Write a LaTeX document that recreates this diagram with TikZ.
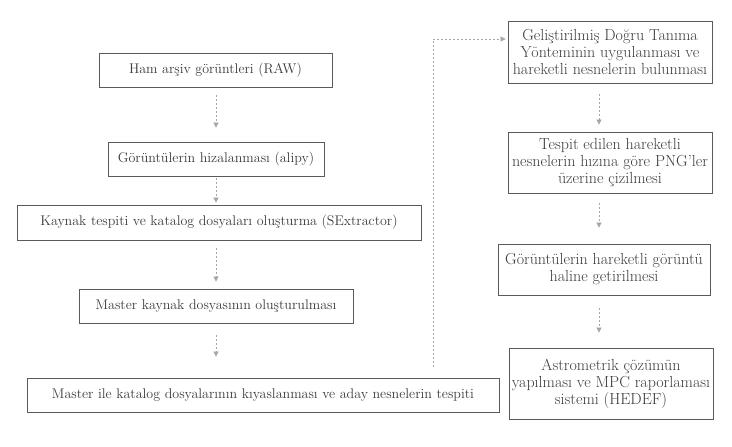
\documentclass[tikz,border=0pt]{standalone}
\usepackage{fontspec}
\usetikzlibrary{arrows.meta}

\definecolor{boxline}{HTML}{5A5A5A}
\definecolor{boxtext}{HTML}{3C3C3C}
\definecolor{flowgray}{HTML}{A6A6A6}

\tikzset{
  adim/.style={draw=boxline, line width=.8pt, text=boxtext, align=center,
    inner sep=0pt, font=\fontsize{14}{17}\selectfont},
  sagadim/.style={adim, font=\fontsize{16}{17}\selectfont},
  akis/.style={draw=flowgray, line width=.7pt, dash pattern=on 2pt off 2pt,
    -{Triangle[length=5pt,width=5pt]}},
}

\begin{document}
\begin{tikzpicture}[x=1pt,y=-1pt]
  \useasboundingbox (0,0) rectangle (732,447);
  \fill[white] (0,0) rectangle (732,447);

  % sol sutun
  \node[adim, minimum width=233pt, minimum height=34pt] (ham) at (215.5,70) {Ham arşiv görüntleri (RAW)};
  \node[adim, minimum width=216pt, minimum height=34pt] (hiza) at (216,159) {Görüntülerin hizalanması (alipy)};
  \node[adim, minimum width=404pt, minimum height=35pt] (kaynak) at (219,222.5) {Kaynak tespiti ve katalog dosyaları oluşturma (SExtractor)};
  \node[adim, minimum width=274pt, minimum height=34pt] (master) at (216,306) {Master kaynak dosyasının oluşturulması};
  \node[adim, minimum width=472pt, minimum height=34pt] (kiyas) at (263,395) {Master ile katalog dosyalarının kıyaslanması ve aday nesnelerin tespiti};

  % sag sutun
  \node[sagadim, minimum width=204pt, minimum height=62pt] (gdt) at (610,52) {Geliştirilmiş Doğru Tanıma\\Yönteminin uygulanması ve\\hareketli nesnelerin bulunması};
  \node[sagadim, minimum width=204pt, minimum height=61pt] (png) at (610,162.5) {Tespit edilen hareketli\\nesnelerin hızına göre PNG’ler\\üzerine çizilmesi};
  \node[sagadim, minimum width=212pt, minimum height=51pt] (hareket) at (604,269.5) {Görüntülerin hareketli görüntü\\haline getirilmesi};
  \node[sagadim, minimum width=204pt, minimum height=71pt] (hedef) at (611,383.5) {Astrometrik çözümün\\yapılması ve MPC raporlaması\\sistemi (HEDEF)};

  \coordinate (solx) at (216,0);
  \coordinate (sagx) at (599,0);
  \coordinate (donus) at (433,367);
  \coordinate (kose) at (433,39);

  \draw[akis, shorten <=8pt, shorten >=14pt] (ham.south -| solx) -- (hiza.north -| solx);
  \draw[akis, shorten <=2pt, shorten >=2pt] (hiza.south -| solx) -- (kaynak.north -| solx);
  \draw[akis, shorten <=8pt, shorten >=7pt] (kaynak.south -| solx) -- (master.north -| solx);
  \draw[akis, shorten <=12pt, shorten >=21pt] (master.south -| solx) -- (kiyas.north -| solx);

  \draw[akis, shorten >=2pt] (donus) -- (kose) -- (gdt.west |- kose);

  \draw[akis, shorten <=11pt, shorten >=7pt] (gdt.south -| sagx) -- (png.north -| sagx);
  \draw[akis, shorten <=10pt, shorten >=16pt] (png.south -| sagx) -- (hareket.north -| sagx);
  \draw[akis, shorten <=13pt, shorten >=15pt] (hareket.south -| sagx) -- (hedef.north -| sagx);
\end{tikzpicture}
\end{document}
